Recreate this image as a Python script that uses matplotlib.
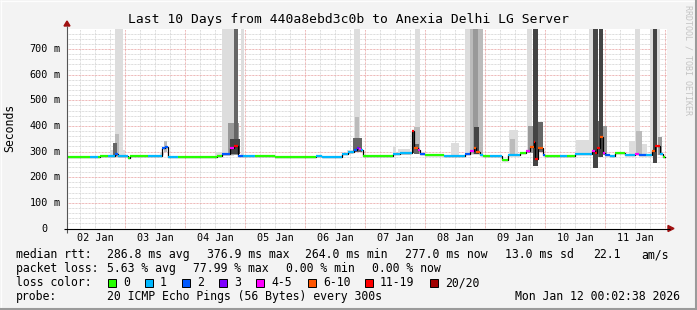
import matplotlib
matplotlib.use('Agg')
import matplotlib.pyplot as plt
from matplotlib.transforms import IdentityTransform
from matplotlib.patches import Rectangle, Polygon
from matplotlib.lines import Line2D

# ---------------- data ----------------
title = "Last 10 Days from 440a8ebd3c0b to Anexia Delhi LG Server"
day_labels = ["02 Jan", "03 Jan", "04 Jan", "05 Jan", "06 Jan",
              "07 Jan", "08 Jan", "09 Jan", "10 Jan", "11 Jan"]
y_ticks = [0, 100, 200, 300, 400, 500, 600, 700]

# median rtt as step segments (start day since 02 Jan 00:00, ms, loss class)
med_start = [0.03, 0.42, 0.55, 0.58, 0.72, 0.83, 0.88, 1.05, 1.08, 1.38,
             1.62, 1.67, 1.72, 1.88, 2.53, 2.62, 2.75, 2.81, 2.89, 2.97,
             3.17, 3.50, 4.19, 4.28, 4.61, 4.72, 4.81, 4.86, 4.90, 4.94,
             4.97, 5.47, 5.58, 5.78, 5.82, 5.89, 5.91, 6.00, 6.31, 6.67,
             6.75, 6.81, 6.85, 6.92, 6.97, 7.08, 7.29, 7.39, 7.58, 7.69,
             7.75, 7.81, 7.83, 7.89, 7.97, 8.00, 8.25, 8.36, 8.50, 8.79,
             8.83, 8.87, 8.91, 8.96, 9.00, 9.08, 9.17, 9.33, 9.50, 9.56,
             9.69, 9.79, 9.84, 9.91, 9.96]
med_ms = [278, 278, 278, 284, 284, 289, 284, 276, 284, 284,
          313, 318, 280, 278, 284, 289, 313, 320, 282, 283,
          284, 278, 283, 278, 292, 300, 308, 312, 310, 305,
          284, 292, 295, 380, 313, 305, 289, 287, 283, 290,
          302, 315, 300, 287, 284, 284, 267, 287, 295, 302,
          317, 339, 270, 313, 287, 284, 284, 284, 290, 302,
          293, 313, 358, 293, 287, 284, 296, 285, 290, 285,
          287, 302, 322, 292, 278]
med_loss = [0, 1, 0, 0, 1, 2, 1, 0, 0, 1,
            2, 2, 1, 0, 0, 2, 4, 6, 2, 1,
            0, 0, 1, 1, 1, 1, 2, 3, 4, 1,
            0, 1, 1, 6, 5, 4, 2, 0, 1, 2,
            4, 5, 5, 1, 0, 1, 0, 1, 0, 4,
            5, 6, 6, 5, 2, 0, 1, 0, 1, 4,
            6, 6, 5, 4, 2, 1, 0, 1, 4, 2,
            1, 5, 6, 1, 0]
med_end = 10.0

# smoke columns (start day, end day, low ms, high ms, darkness level)
smoke_start = [0.75, 0.83, 0.83, 0.80, 1.58, 1.65, 2.50, 2.62, 2.93, 2.72,
               2.75, 2.82, 4.70, 4.81, 4.83, 4.80, 5.47, 5.55, 5.83, 5.82,
               5.82, 5.78, 6.44, 6.67, 6.75, 6.80, 6.88, 6.82, 7.40, 7.42,
               7.70, 7.72, 7.80, 7.89, 8.52, 8.73, 8.80, 8.80, 8.90, 8.97,
               9.40, 9.50, 9.52, 9.60, 9.75, 9.80, 9.88]
smoke_end = [1.00, 0.97, 0.90, 0.86, 1.65, 1.70, 2.62, 2.81, 2.99, 2.90,
             2.92, 2.88, 4.80, 4.92, 4.90, 4.95, 5.52, 5.75, 5.92, 5.92,
             5.90, 5.82, 6.56, 6.97, 6.80, 6.88, 6.97, 6.90, 7.55, 7.50,
             7.78, 7.80, 7.88, 7.97, 8.78, 8.80, 8.95, 8.89, 8.97, 9.03,
             9.50, 9.58, 9.62, 9.70, 9.92, 9.87, 9.95]
smoke_lo = [275, 280, 280, 283, 285, 300, 280, 282, 282, 285,
            290, 300, 290, 300, 300, 300, 285, 288, 290, 290,
            290, 295, 283, 285, 290, 290, 290, 290, 285, 287,
            295, 295, 245, 300, 287, 290, 280, 237, 280, 285,
            285, 290, 290, 285, 285, 254, 285]
smoke_hi = [305, 800, 370, 335, 300, 340, 300, 800, 800, 411,
            350, 800, 305, 800, 436, 353, 319, 310, 800, 397,
            330, 380, 332, 800, 800, 800, 800, 397, 384, 350,
            800, 400, 800, 417, 345, 800, 420, 800, 800, 400,
            340, 800, 380, 330, 800, 800, 355]
smoke_level = [0, 0, 1, 3, 0, 1, 0, 0, 0, 2,
               4, 3, 0, 0, 1, 3, 0, 0, 0, 1,
               3, 4, 0, 0, 1, 2, 1, 4, 0, 1,
               0, 2, 4, 3, 0, 0, 3, 4, 4, 2,
               0, 0, 1, 0, 0, 4, 2]

loss_labels = ["0", "1", "2", "3", "4-5", "6-10", "11-19", "20/20"]
stats_rtt = ["286.8 ms avg", "376.9 ms max", "264.0 ms min", "277.0 ms now",
             "13.0 ms sd", "22.1", "am/s"]
stats_loss = ["5.63 % avg", "77.99 % max", "0.00 % min", "0.00 % now"]
probe_text = "20 ICMP Echo Pings (56 Bytes) every 300s"
stamp_text = "Mon Jan 12 00:02:38 2026"

# ---------------- style ----------------
loss_colors = ['#26ff00', '#00b8ff', '#0059ff', '#7e00ff',
               '#ff00ff', '#ff5500', '#ff0000', '#a10000']
smoke_colors = ['#dddddd', '#bbbbbb', '#999999', '#666666', '#444444']
MONO = 'DejaVu Sans Mono'

W, H = 697, 310
fig = plt.figure(figsize=(W / 100, H / 100), dpi=100, facecolor='#f3f3f3')
X0, X1 = 67, 667
YB, YT = 228.5, 29
ax = fig.add_axes([X0 / W, (H - YB) / H, (X1 - X0) / W, (YB - YT) / H])
ax.set_facecolor('white')
XMIN, XMAX = 0.033, 10.033
YMAX = 778
ax.set_xlim(XMIN, XMAX)
ax.set_ylim(0, YMAX)
ax.set_xticks([])
ax.set_yticks([])
for s in ax.spines.values():
    s.set_visible(False)

dot = (0, (0.72, 0.72))
# minor grid
for i in range(0, 41):
    d = i * 0.25
    if i % 4 != 0 and XMIN < d < XMAX:
        ax.axvline(d, color='#d2d2d2', lw=0.72, linestyle=dot, zorder=1)
for v in range(20, YMAX, 20):
    if v % 100 != 0:
        ax.axhline(v, color='#d2d2d2', lw=0.72, linestyle=dot, zorder=1)
# major grid
for d in range(1, 11):
    ax.axvline(d, color='#e8a0a0', lw=0.72, linestyle=dot, zorder=1)
for v in y_ticks[1:]:
    ax.axhline(v, color='#e8a0a0', lw=0.72, linestyle=dot, zorder=1)

# smoke
order = sorted(range(len(smoke_start)), key=lambda i: smoke_level[i])
for i in order:
    ax.bar(smoke_start[i], smoke_hi[i] - smoke_lo[i], bottom=smoke_lo[i],
           width=smoke_end[i] - smoke_start[i], align='edge',
           color=smoke_colors[smoke_level[i]], linewidth=0, zorder=2)

# median line
ends = med_start[1:] + [med_end]
xs, ys = [], []
for s0, e0, v in zip(med_start, ends, med_ms):
    xs += [s0, e0]
    ys += [v, v]
ax.plot(xs, ys, color='black', lw=0.9, zorder=3, solid_joinstyle='miter')
for s0, e0, v, l in zip(med_start, ends, med_ms, med_loss):
    ax.hlines(v, s0, e0, colors=loss_colors[l], lw=1.6, zorder=4)

# axes lines and arrows
ident = IdentityTransform()
def L(x0, y0, x1, y1, c, lw=1.0):
    fig.add_artist(Line2D([x0, x1], [H - y0, H - y1], color=c, lw=lw,
                          transform=ident, solid_capstyle='butt'))
L(X0, YB + 4, X0, 26, '#555555', 0.8)
L(X0 - 3, YB, 670, YB, '#000000', 0.8)
fig.add_artist(Polygon([[X0 - 3, H - 26], [X0 + 3, H - 26], [X0, H - 21]],
                       closed=True, color='#a01010', transform=ident))
fig.add_artist(Polygon([[668, H - YB + 3], [668, H - YB - 3], [674, H - YB]],
                       closed=True, color='#a01010', transform=ident))

def T(x, y, s, **kw):
    kw.setdefault('family', MONO)
    kw.setdefault('va', 'center')
    fig.text(x, H - y, s, transform=ident, **kw)

T(W / 2, 19, title, fontsize=9.4, ha='center', color='#000000')
for i, lab in enumerate(day_labels):
    x = X0 + (i + 0.5 - XMIN) * 60
    T(x, 238, lab, fontsize=7.3, ha='center')
for v in y_ticks:
    y = YB - v * (YB - YT) / YMAX
    T(48, y, str(v), fontsize=7.3, ha='right')
    if v != 0:
        T(53, y, "m", fontsize=7.3, ha='left')
T(10, 128, "Seconds", fontsize=8.3, ha='center', rotation=90)
T(688, 5, "RRDTOOL / TOBI OETIKER", fontsize=6, ha='center', va='top',
  rotation=270, color='#c4c4c4')

# legend rows
FS = 8.3
T(16, 254.5, "median rtt:", fontsize=FS)
for x, s in zip([107, 207, 305, 405, 505, 593, 641], stats_rtt):
    T(x, 254.5, s, fontsize=FS)
T(16, 268.5, "packet loss:", fontsize=FS)
for x, s in zip([107, 193, 286, 372], stats_loss):
    T(x, 268.5, s, fontsize=FS)
T(16, 282.5, "loss color:", fontsize=FS)
box_x = [108, 145, 182, 219, 256, 308, 365, 430]
for bx, c, lab in zip(box_x, loss_colors, loss_labels):
    fig.add_artist(Rectangle((bx, H - 287), 8, 8, facecolor=c,
                             edgecolor='black', lw=0.7, transform=ident))
    T(bx + 15, 282.5, lab, fontsize=FS)
T(16, 296.5, "probe:", fontsize=FS)
T(107, 296.5, probe_text, fontsize=FS)
T(680, 296.5, stamp_text, fontsize=FS, ha='right')

# frame
L(0, 0.5, W, 0.5, '#fdfdfd', 1.0)
L(0.5, 0, 0.5, H, '#fdfdfd', 1.0)
L(0, H - 1, W, H - 1, '#9a9a9a', 1.5)
L(W - 1, 0, W - 1, H, '#9a9a9a', 1.5)

fig.savefig('out.png', dpi=100, facecolor=fig.get_facecolor())
